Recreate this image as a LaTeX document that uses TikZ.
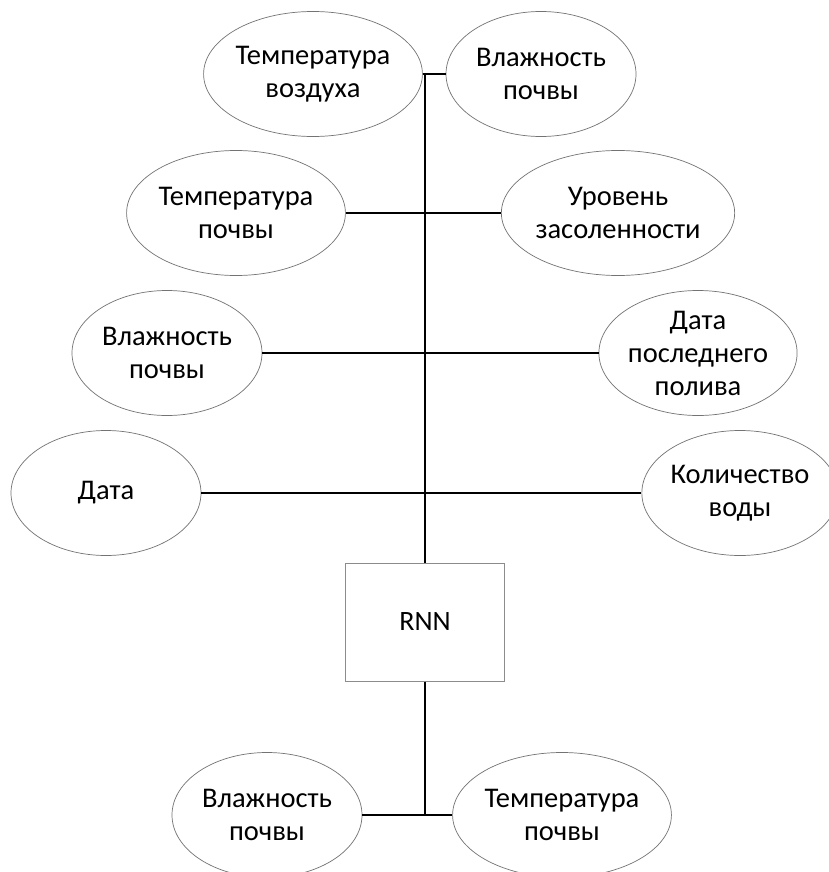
\documentclass[tikz,border=0pt]{standalone}
\usepackage{fontspec}
\setmainfont{Carlito}
\usetikzlibrary{shapes.geometric}
\begin{document}
\begin{tikzpicture}[x=1pt,y=-1pt,
  oval/.style={ellipse,draw=black!55,line width=0.7pt,minimum width=190pt,minimum height=125pt,inner sep=0pt,align=center,font=\fontsize{28.5}{33}\selectfont},
  netbox/.style={rectangle,draw=black!45,line width=1pt,minimum width=159pt,minimum height=118pt,inner sep=0pt,font=\fontsize{28}{33}\selectfont},
  link/.style={draw=black,line width=1.2pt}]
\useasboundingbox (0,0) rectangle (828,872);
\fill[white] (0,0) rectangle (828,872);
\node[oval] (e1) at (313,74) {Температура\\воздуха};
\node[oval] (e2) at (541,74) {Влажность\\почвы};
\node[oval] (e3) at (236,213) {Температура\\почвы};
\node[oval] (e4) at (618,213) {Уровень\\засоленности};
\node[oval] (e5) at (167,353) {Влажность\\почвы};
\node[oval] (e6) at (698,353) {Дата\\последнего\\полива};
\node[oval] (e7) at (106,493) {Дата};
\node[oval] (e8) at (740,493) {Количество\\воды};
\node[netbox] (rnn) at (425,622) {RNN};
\node[oval] (b1) at (267,815) {Влажность\\почвы};
\node[oval] (b2) at (562,815) {Температура\\почвы};
\coordinate (top) at (425,74);
\coordinate (bot) at (425,815);
\draw[link] (e1.east) -- (e2.west);
\draw[link] (e3.east) -- (e4.west);
\draw[link] (e5.east) -- (e6.west);
\draw[link] (e7.east) -- (e8.west);
\draw[link] (top) -- (rnn.north);
\draw[link] (rnn.south) -- (bot);
\draw[link] (b1.east) -- (b2.west);
\end{tikzpicture}
\end{document}
